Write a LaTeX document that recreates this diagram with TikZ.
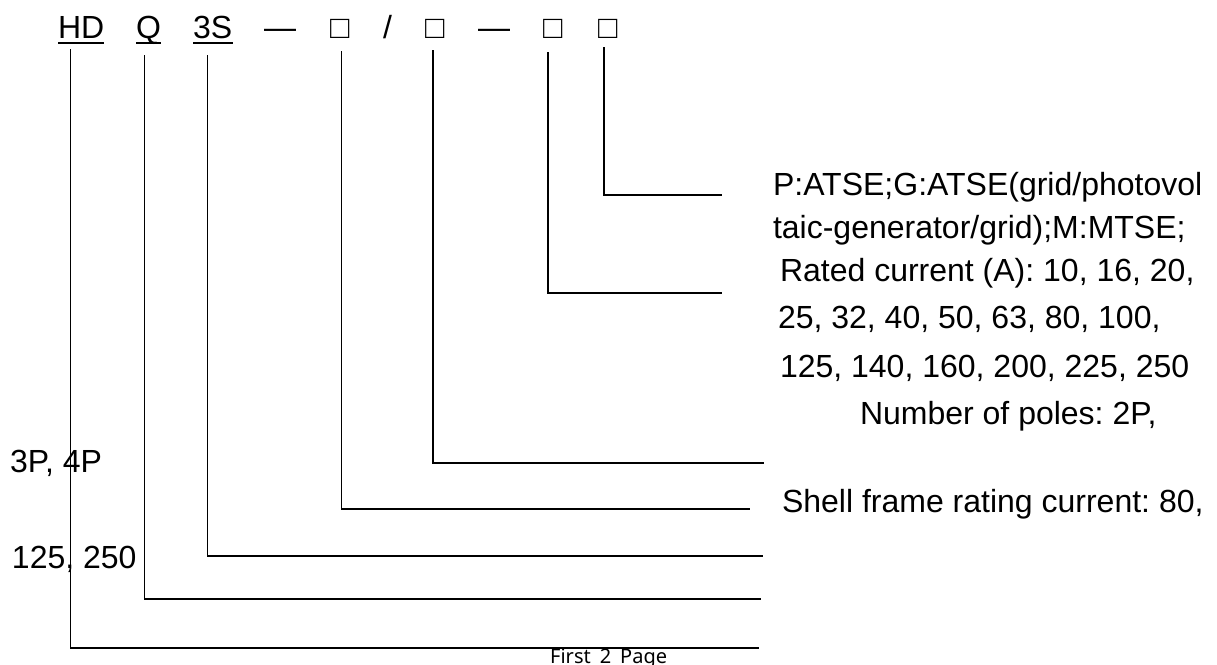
\documentclass[tikz,border=0pt]{standalone}
\usepackage{fontspec}
\setmainfont{Liberation Sans}
\newfontfamily\footfont{Noto Sans}
\frenchspacing
\begin{document}
\begin{tikzpicture}[x=1pt,y=-1pt,
  lbl/.style={anchor=base west,inner sep=0pt,outer sep=0pt,font=\fontsize{32}{38}\selectfont},
  code/.style={anchor=base west,inner sep=0pt,outer sep=0pt,font=\fontsize{32}{38}\selectfont},
  uline/.style={line width=2.4pt},
  conn/.style={line width=1.6pt,line cap=rect}]
\useasboundingbox (0,0) rectangle (1217,664);
\clip (0,0) rectangle (1217,664);
% top code
\node[code] (hd) at (58,38) {HD};
\node[code] (q) at (136,38) {Q};
\node[code] (s3) at (193,38) {3S};
\node[code] (d1) at (264,38) {—};
\node[code] (b1) at (330,38) {□};
\node[code] (sl) at (383,38) {/};
\node[code] (b2) at (425,38) {□};
\node[code] (d2) at (478,38) {—};
\node[code] (b3) at (543,38) {□};
\node[code] (b4) at (598,38) {□};
\draw[uline] (hd.base west) ++(0,5) -- ++(46,0);
\draw[uline] (q.base west) ++(0,5) -- ++(25,0);
\draw[uline] (s3.base west) ++(0,5) -- ++(40,0);
% connectors
\coordinate (hdt) at (70.5,50);  \coordinate (hde) at (758,648);
\coordinate (qt) at (144.5,56);  \coordinate (qe) at (760,599);
\coordinate (st) at (207.5,56);  \coordinate (se) at (762,556);
\coordinate (b1t) at (341.5,52); \coordinate (b1e) at (749,509);
\coordinate (b2t) at (433,51);   \coordinate (b2e) at (763,463);
\coordinate (b3t) at (548,53);   \coordinate (b3e) at (721,293);
\coordinate (b4t) at (604,48);   \coordinate (b4e) at (721,195);
\draw[conn] (hdt) |- (hde);
\draw[conn] (qt) |- (qe);
\draw[conn] (st) |- (se);
\draw[conn] (b1t) |- (b1e);
\draw[conn] (b2t) |- (b2e);
\draw[conn] (b3t) |- (b3e);
\draw[conn] (b4t) |- (b4e);
% right texts
\node[lbl] (t1) at (773,195) {P:ATSE;G:ATSE(grid/photovol};
\node[lbl] (t2) at (773,238) {taic-generator/grid);M:MTSE;};
\node[lbl] (t3) at (780,281) {Rated current (A): 10, 16, 20,};
\node[lbl] (t4) at (778,328) {25, 32, 40, 50, 63, 80, 100,};
\node[lbl] (t5) at (780,377) {125, 140, 160, 200, 225, 250};
\node[lbl] (t6) at (860,424) {Number of poles: 2P,};
\node[lbl] (t7) at (782,512) {Shell frame rating current: 80,};
% left texts
\node[lbl] (l1) at (10,472) {3P, 4P};
\node[lbl] (l2) at (12,568) {125, 250};
% footer
\node[anchor=base west,inner sep=0pt,font=\footfont\fontsize{20}{24}\selectfont] (ft) at (550,663) {First\hspace{9pt}2\hspace{9pt}Page};
\end{tikzpicture}
\end{document}
